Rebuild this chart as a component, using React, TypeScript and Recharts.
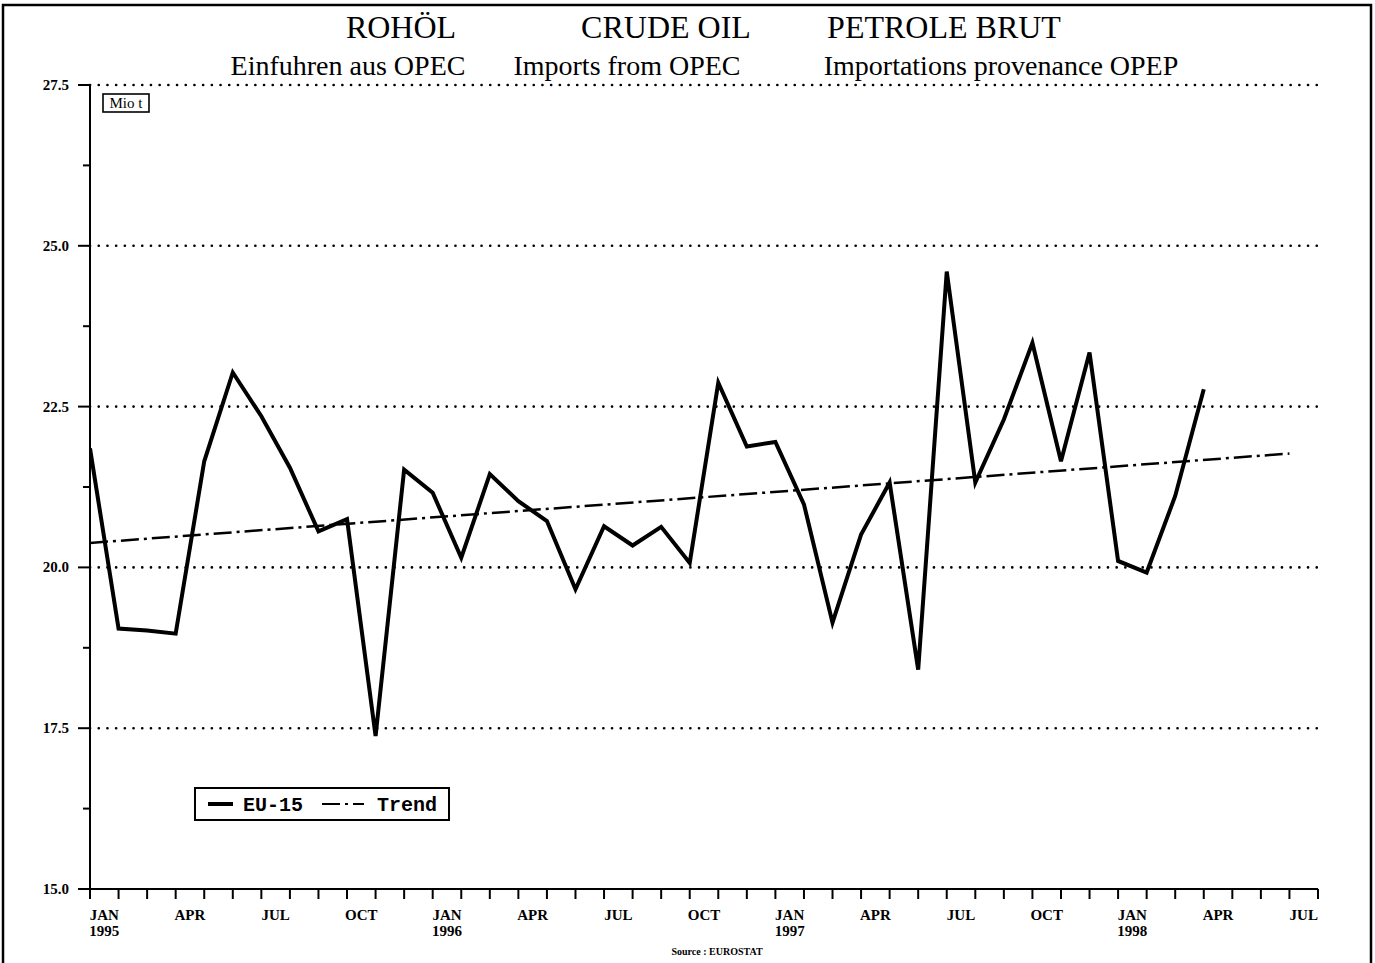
import React from 'react';
import { LineChart, Line, XAxis, YAxis, ReferenceLine } from 'recharts';

// EU-15 monthly crude oil imports from OPEC (Mio t), Jan 1995 .. Apr 1998
const monthIndex: number[] = Array.from({ length: 40 }, (_, i) => i);
const euValues: number[] = [
  21.85, 19.05, 19.02, 18.97, 21.65, 23.03, 22.35, 21.55, 20.56, 20.75, 17.38, 21.52,
  21.16, 20.15, 21.45, 21.03, 20.72, 19.66, 20.64, 20.34, 20.63, 20.07, 22.87, 21.88,
  21.95, 20.98, 19.14, 20.51, 21.32, 18.41, 24.6, 21.32, 22.3, 23.49, 21.65, 23.34,
  20.1, 19.92, 21.11, 22.77,
];
// Trend line end points (month index, value)
const trendMonths: number[] = [0, 42];
const trendValues: number[] = [20.38, 21.77];

const seriesNames: string[] = ['EU-15', 'Trend'];

const xTickMonths: string[] = ['JAN', 'APR', 'JUL', 'OCT', 'JAN', 'APR', 'JUL', 'OCT', 'JAN', 'APR', 'JUL', 'OCT', 'JAN', 'APR', 'JUL'];
const xTickYears: string[] = ['1995', '', '', '', '1996', '', '', '', '1997', '', '', '', '1998', '', ''];
const yMajorTicks: number[] = [15, 17.5, 20, 22.5, 25, 27.5];
const yMinorTicks: number[] = [16.25, 18.75, 21.25, 23.75, 26.25];

const euData = monthIndex.map((m, i) => ({ m, v: euValues[i] }));
const trendData = trendMonths.map((m, i) => ({ m, t: trendValues[i] }));

const xMonthBoundaries = Array.from({ length: 44 }, (_, i) => i);
const xLabelPositions = xTickMonths.map((_, k) => 0.5 + 3 * k);
const xTicks = [...xMonthBoundaries, ...xLabelPositions].sort((a, b) => a - b);
const yTicks = [...yMajorTicks, ...yMinorTicks].sort((a, b) => a - b);

const serif = '"Liberation Serif", "DejaVu Serif", serif';
const mono = '"Liberation Mono", "DejaVu Sans Mono", monospace';

const XTick = (props: any) => {
  const { x, y, payload } = props;
  const v = payload.value as number;
  if (Number.isInteger(v)) {
    return <line x1={x} x2={x} y1={y} y2={y + 10} stroke="#000" strokeWidth={2} />;
  }
  const k = xLabelPositions.indexOf(v);
  if (k < 0) return null;
  return (
    <g>
      <text x={x} y={y + 31} textAnchor="middle" fontFamily={serif} fontWeight="bold" fontSize={15} fill="#000">
        {xTickMonths[k]}
      </text>
      {xTickYears[k] && (
        <text x={x} y={y + 47} textAnchor="middle" fontFamily={serif} fontWeight="bold" fontSize={15} fill="#000">
          {xTickYears[k]}
        </text>
      )}
    </g>
  );
};

const YTick = (props: any) => {
  const { x, y, payload } = props;
  const v = payload.value as number;
  const major = yMajorTicks.includes(v);
  return (
    <g>
      <line x1={x - (major ? 12 : 7)} x2={x} y1={y} y2={y} stroke="#000" strokeWidth={2} />
      {major && (
        <text x={x - 21} y={y + 5} textAnchor="end" fontFamily={serif} fontWeight="bold" fontSize={15} fill="#000">
          {v.toFixed(1)}
        </text>
      )}
    </g>
  );
};

export default function App() {
  return (
    <div style={{ position: 'absolute', left: 0, top: 0, width: 1375, height: 963, background: '#fff', overflow: 'hidden' }}>
      <LineChart width={1375} height={963} margin={{ top: 85, right: 57, bottom: 14, left: 30 }}>
        <XAxis
          dataKey="m"
          type="number"
          domain={[0, 43]}
          ticks={xTicks}
          interval={0}
          allowDataOverflow
          tickSize={0}
          tickMargin={0}
          height={60}
          tick={<XTick />}
          axisLine={{ stroke: '#000', strokeWidth: 2 }}
          tickLine={false}
        />
        <YAxis
          type="number"
          domain={[15, 27.5]}
          ticks={yTicks}
          interval={0}
          allowDataOverflow
          width={60}
          tickSize={0}
          tickMargin={0}
          tick={<YTick />}
          axisLine={{ stroke: '#000', strokeWidth: 2 }}
          tickLine={false}
        />
        {yMajorTicks
          .filter((v) => v > 15)
          .map((v) => (
            <ReferenceLine
              key={v}
              y={v}
              stroke="#000"
              strokeWidth={2.6}
              strokeDasharray="0.1 8.6"
              strokeLinecap="round"
              ifOverflow="extendDomain"
            />
          ))}
        <Line
          data={trendData}
          dataKey="t"
          name={seriesNames[1]}
          stroke="#000"
          strokeWidth={2.5}
          strokeDasharray="18 5 3 5"
          dot={false}
          isAnimationActive={false}
        />
        <Line
          data={euData}
          dataKey="v"
          name={seriesNames[0]}
          stroke="#000"
          strokeWidth={4}
          strokeLinejoin="miter"
          dot={false}
          isAnimationActive={false}
        />
      </LineChart>
      <svg width={1375} height={963} style={{ position: 'absolute', left: 0, top: 0, pointerEvents: 'none' }}>
        <rect x={3} y={5} width={1368} height={980} fill="none" stroke="#000" strokeWidth={2.5} />
        <g fontFamily={serif} fill="#000" textAnchor="middle">
          <text x={401} y={38} fontSize={32}>ROHÖL</text>
          <text x={666} y={38} fontSize={32}>CRUDE OIL</text>
          <text x={944} y={38} fontSize={32}>PETROLE BRUT</text>
          <text x={348} y={75} fontSize={28}>Einfuhren aus OPEC</text>
          <text x={627} y={75} fontSize={28}>Imports from OPEC</text>
          <text x={1001} y={75} fontSize={28}>Importations provenance OPEP</text>
          <text x={717} y={955} fontSize={10} fontWeight="bold">Source : EUROSTAT</text>
        </g>
        <rect x={103} y={94} width={46} height={18} fill="none" stroke="#000" strokeWidth={1.6} />
        <text x={126} y={108} textAnchor="middle" fontFamily={serif} fontSize={15} fill="#000">Mio t</text>
        <rect x={195} y={788} width={254} height={32} fill="#fff" stroke="#000" strokeWidth={2} />
        <line x1={208} x2={233} y1={804} y2={804} stroke="#000" strokeWidth={4} />
        <text x={243} y={811} fontFamily={mono} fontWeight="bold" fontSize={20} fill="#000">{seriesNames[0]}</text>
        <line x1={322} x2={364} y1={804} y2={804} stroke="#000" strokeWidth={2} strokeDasharray="18 5 3 5" />
        <text x={377} y={811} fontFamily={mono} fontWeight="bold" fontSize={20} fill="#000">{seriesNames[1]}</text>
      </svg>
    </div>
  );
}
